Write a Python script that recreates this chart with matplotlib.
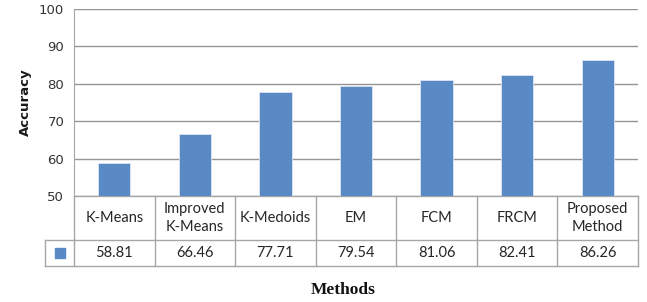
import matplotlib.pyplot as plt

methods = ["K-Means", "Improved\nK-Means", "K-Medoids", "EM", "FCM", "FRCM", "Proposed\nMethod"]
accuracy = [58.81, 66.46, 77.71, 79.54, 81.06, 82.41, 86.26]
yticks = [50, 60, 70, 80, 90, 100]

bar_color = "#5a8ac6"
grid_color = "#959595"
line_color = "#a6a6a6"
text_color = "#262626"

fig = plt.figure(figsize=(6.47, 3.02), dpi=100)
ax = fig.add_axes([74 / 647, 1 - 196 / 302, 564 / 647, 187 / 302])

x = list(range(len(methods)))
ax.bar(x, accuracy, width=0.4, color=bar_color, edgecolor="#dce6f2", linewidth=0.6, zorder=3)

ax.set_xlim(-0.5, len(methods) - 0.5)
ax.set_ylim(50, 100)
ax.set_yticks(yticks)
ax.set_yticklabels([str(t) for t in yticks], fontsize=9.5, color="#333333")
ax.tick_params(axis="y", length=0, pad=7)
ax.set_xticks([])
ax.yaxis.grid(True, color=grid_color, linewidth=1)
for s in ["top", "right", "bottom"]:
    ax.spines[s].set_visible(False)
ax.spines["left"].set_color(line_color)
ax.set_ylabel("Accuracy", fontsize=9.5, fontweight="bold", color="#1a1a1a", labelpad=5)

# data table under the plot
tr = ax.get_xaxis_transform()
h1 = -(240 - 196) / 187
h2 = -(266 - 196) / 187
left_cell = -0.5 - 29 / 80.6
lk = dict(color=line_color, linewidth=1, transform=tr, clip_on=False)
for i in range(len(methods) + 1):
    ax.plot([i - 0.5, i - 0.5], [0, h2], **lk)
ax.plot([left_cell, left_cell], [h1, h2], **lk)
ax.plot([left_cell, len(methods) - 0.5], [h1, h1], **lk)
ax.plot([left_cell, len(methods) - 0.5], [h2, h2], **lk)
ax.plot([-0.5, len(methods) - 0.5], [0, 0], **lk)

font = ["Lato", "DejaVu Sans"]
for i, (m, v) in enumerate(zip(methods, accuracy)):
    ax.text(i, h1 / 2, m, transform=tr, ha="center", va="center", fontsize=10.5,
            family=font, color=text_color, linespacing=1.35)
    ax.text(i, (h1 + h2) / 2, "%.2f" % v, transform=tr, ha="center", va="center",
            fontsize=10.5, family=font, color=text_color)
ax.scatter([(left_cell - 0.5) / 2], [(h1 + h2) / 2], marker="s", s=45, color=bar_color,
           transform=tr, clip_on=False)

fig.text(343 / 647, 1 - 290 / 302, "Methods", ha="center", va="center", fontsize=12.5,
         fontweight="bold", family="Liberation Serif", color="#111111")

fig.savefig("out.png", dpi=100)
